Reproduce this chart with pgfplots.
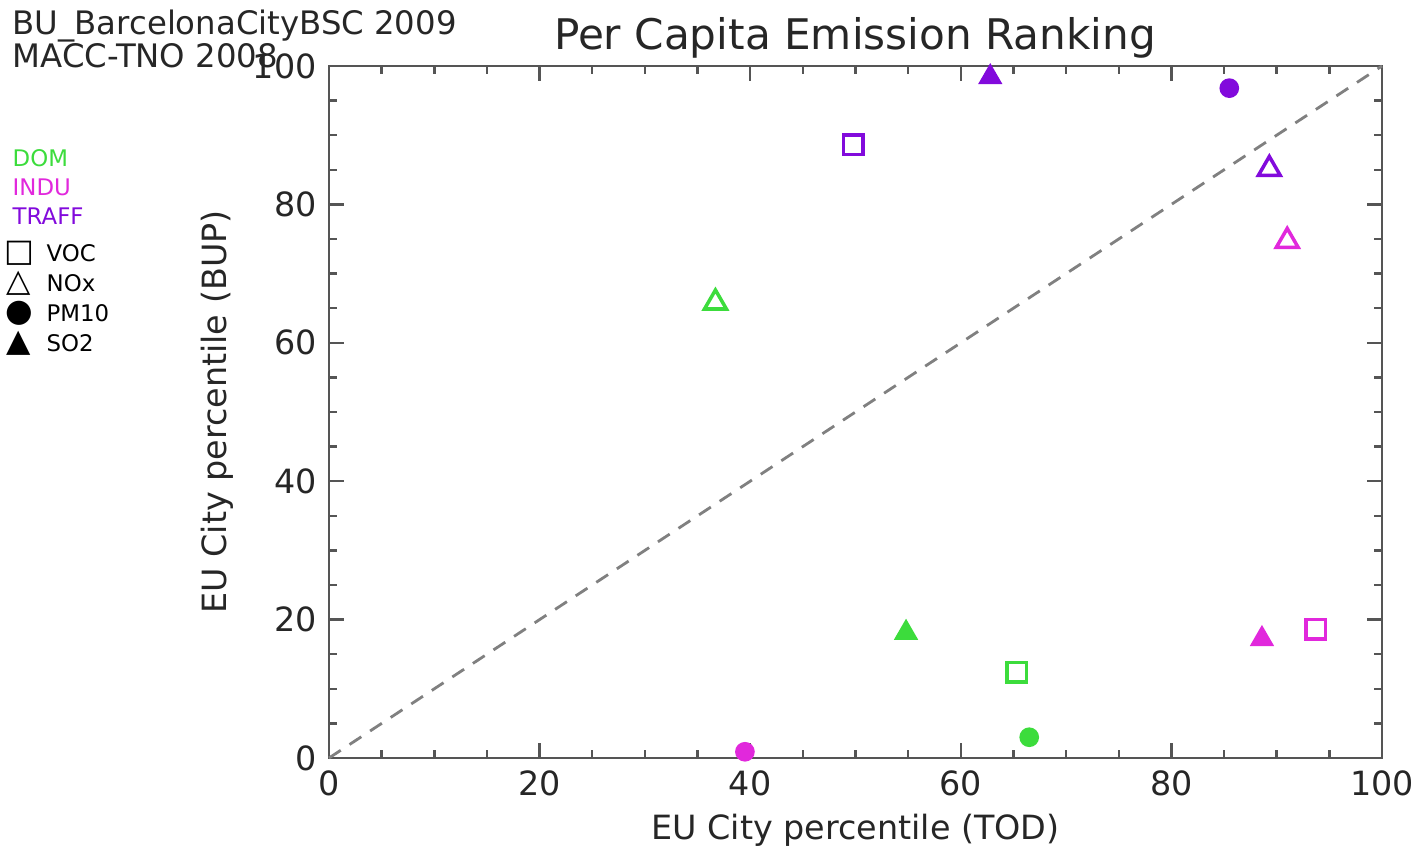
\documentclass[border=0pt]{standalone}
\usepackage{pgfplots}
\pgfplotsset{compat=1.18}
\usepackage{fontspec}
\setmainfont{DejaVu Sans}
\definecolor{dom}{RGB}{60,220,60}
\definecolor{indu}{RGB}{225,40,220}
\definecolor{traff}{RGB}{130,10,220}
\definecolor{axc}{RGB}{85,85,85}
\begin{document}
\begin{tikzpicture}[x=1cm,y=1cm]
\useasboundingbox (0,0) rectangle (14.16,-8.49);
\begin{axis}[
  scale only axis, width=10.53cm, height=6.92cm,
  at={(3.29cm,-7.58cm)}, anchor=south west,
  xmin=0, xmax=100, ymin=0, ymax=100,
  xtick={0,20,...,100}, ytick={0,20,...,100},
  minor tick num=3, tick align=inside,
  major tick length=1.5mm, minor tick length=0.8mm,
  axis line style={axc, line width=0.8pt},
  every tick/.style={axc, line width=0.7pt},
  tick label style={font=\fontsize{9.5}{11}\selectfont, text=black!85},
  /pgf/number format/assume math mode=true,
  xlabel={EU City percentile (TOD)},
  ylabel={EU City percentile (BUP)},
  label style={font=\fontsize{9.5}{11}\selectfont, text=black!85},
  xlabel style={at={(axis description cs:0.5,-0.104)}, anchor=center},
  ylabel style={at={(axis description cs:-0.106,0.5)}, anchor=center},
  clip=false,
]
\addplot[gray, dashed, line width=0.8pt, dash pattern=on 4pt off 3pt] coordinates {(0,0) (100,100)};
% DOM
\addplot[only marks, mark=triangle, mark size=3.6pt, dom, mark options={line width=1pt}] coordinates {(36.7,65.8)};
\addplot[only marks, mark=triangle*, mark size=3.6pt, dom] coordinates {(54.8,18.1)};
\addplot[only marks, mark=square, mark size=2.8pt, dom, mark options={line width=1pt}] coordinates {(65.3,12.4)};
\addplot[only marks, mark=*, mark size=2.6pt, dom] coordinates {(66.5,3.0)};
% INDU
\addplot[only marks, mark=*, mark size=2.6pt, indu] coordinates {(39.5,0.9)};
\addplot[only marks, mark=triangle*, mark size=3.6pt, indu] coordinates {(88.6,17.2)};
\addplot[only marks, mark=square, mark size=2.8pt, indu, mark options={line width=1pt}] coordinates {(93.7,18.6)};
\addplot[only marks, mark=triangle, mark size=3.6pt, indu, mark options={line width=1pt}] coordinates {(91.0,74.7)};
% TRAFF
\addplot[only marks, mark=triangle*, mark size=3.6pt, traff] coordinates {(62.8,98.4)};
\addplot[only marks, mark=*, mark size=2.6pt, traff] coordinates {(85.5,96.8)};
\addplot[only marks, mark=triangle, mark size=3.6pt, traff, mark options={line width=1pt}] coordinates {(89.3,85.1)};
\addplot[only marks, mark=square, mark size=2.8pt, traff, mark options={line width=1pt}] coordinates {(49.8,88.6)};
\end{axis}
\node[anchor=center, font=\fontsize{12}{14}\selectfont, text=black!85] at (8.55,-0.38) {Per Capita Emission Ranking};
\node[anchor=base west, inner sep=0pt, font=\fontsize{9.2}{11}\selectfont, text=black!85] at (0.12,-0.35) {BU\_BarcelonaCityBSC 2009};
\node[anchor=base west, inner sep=0pt, font=\fontsize{9.2}{11}\selectfont, text=black!85] at (0.12,-0.68) {MACC-TNO 2008};
\begin{scope}[font=\fontsize{6.5}{8}\selectfont]
\node[anchor=west, inner sep=0pt, text=dom] at (0.12,-1.58) {DOM};
\node[anchor=west, inner sep=0pt, text=indu] at (0.12,-1.87) {INDU};
\node[anchor=west, inner sep=0pt, text=traff] at (0.12,-2.16) {TRAFF};
\node[anchor=center, font=\fontsize{9}{10}\selectfont] at (0.19,-2.53) {□};
\node[anchor=center, font=\fontsize{9}{10}\selectfont] at (0.19,-2.83) {△};
\node[anchor=center, font=\fontsize{9}{10}\selectfont] at (0.19,-3.13) {●};
\node[anchor=center, font=\fontsize{9}{10}\selectfont] at (0.19,-3.43) {▲};
\node[anchor=west, inner sep=0pt] at (0.46,-2.53) {VOC};
\node[anchor=west, inner sep=0pt] at (0.46,-2.83) {NOx};
\node[anchor=west, inner sep=0pt] at (0.46,-3.13) {PM10};
\node[anchor=west, inner sep=0pt] at (0.46,-3.43) {SO2};
\end{scope}
\end{tikzpicture}
\end{document}
